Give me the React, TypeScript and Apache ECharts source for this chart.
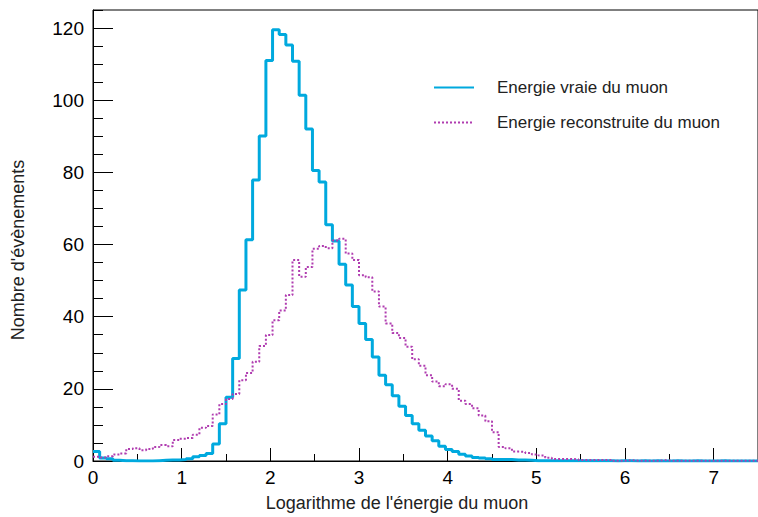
import React, { useEffect, useRef } from "react";
import * as echarts from "echarts";

const binWidth = 0.075;
const xMax = 7.5;

const trueEnergy = [
  2.6, 0.8, 0.6, 0.2, 0.1, 0.1, 0, 0, 0, 0.1,
  0.2, 0.3, 0.3, 0.4, 0.6, 1.2, 1.5, 2.1, 4.7, 10.3,
  17.7, 28.4, 47.4, 61.3, 77.9, 90.1, 111.0, 119.5, 118.2, 115.3,
  110.8, 101.4, 92.0, 80.5, 77.3, 65.5, 61.0, 54.5, 48.8, 42.8,
  38.1, 33.7, 28.8, 23.8, 21.1, 18.1, 15.2, 12.6, 10.3, 8.5,
  6.9, 5.6, 4.1, 3.2, 2.6, 1.9, 1.4, 1.0, 0.8, 0.6,
  0.4, 0.4, 0.4, 0.3, 0.3, 0.2, 0.1, 0.1, 0.1, 0.1,
  0.05, 0.1, 0.05, 0.05, 0.1, 0.05, 0.05, 0.05, 0, 0.05,
  0.05, 0, 0.05, 0, 0.05, 0, 0, 0.05, 0, 0,
  0.05, 0, 0, 0, 0.05, 0, 0, 0, 0, 0,
];

const recoEnergy = [
  1.2, 1.0, 1.3, 1.8, 2.1, 3.3, 3.5, 3.0, 3.3, 3.9,
  4.4, 4.1, 5.8, 6.2, 6.4, 7.3, 9.2, 9.7, 12.9, 15.8,
  17.2, 18.6, 22.4, 24.4, 27.5, 31.9, 34.9, 39.0, 41.7, 46.0,
  55.7, 51.1, 53.8, 58.8, 59.6, 59.0, 61.1, 61.6, 57.5, 55.7,
  51.5, 50.9, 47.0, 42.8, 38.1, 35.5, 34.1, 31.7, 28.2, 26.4,
  23.8, 22.0, 20.7, 21.3, 20.0, 16.7, 15.8, 14.6, 12.6, 11.0,
  8.0, 3.9, 3.5, 2.6, 2.5, 2.2, 1.8, 1.5, 0.9, 0.55,
  0.55, 0.55, 0.5, 0.3, 0.3, 0.3, 0.3, 0.3, 0.1, 0.1,
  0.2, 0.1, 0.1, 0.1, 0.1, 0.2, 0.1, 0.1, 0.1, 0.1,
  0.1, 0.1, 0.1, 0.1, 0.1, 0.1, 0.1, 0.1, 0.1, 0.1,
];

const seriesNames = ["Energie vraie du muon", "Energie reconstruite du muon"];
const xTitle = "Logarithme de l'énergie du muon";
const yTitle = "Nombre d'évènements";

const toSteps = (values: number[]) => {
  const pts = values.map((v, i) => [i * binWidth, v]);
  pts.push([xMax, values[values.length - 1]]);
  return pts;
};

const FONT = "'Liberation Sans', Arial, Helvetica, sans-serif";

export default function App() {
  const ref = useRef<HTMLDivElement>(null);
  useEffect(() => {
    if (!ref.current) return;
    const chart = echarts.init(ref.current, undefined, { renderer: "svg" });
    chart.setOption({
      animation: false,
      backgroundColor: "#ffffff",
      textStyle: { fontFamily: FONT },
      grid: {
        left: 93,
        top: 10,
        width: 667.5,
        height: 456,
        show: true,
        borderColor: "#000",
        borderWidth: 1,
        backgroundColor: "transparent",
      },
      legend: {
        orient: "vertical",
        left: 433,
        top: 79,
        padding: 0,
        itemWidth: 40,
        itemHeight: 14,
        itemGap: 18,
        data: seriesNames,
        itemStyle: { opacity: 0 },
        textStyle: { fontSize: 17, color: "#222", fontFamily: FONT, padding: [0, 0, 0, 18] },
      },
      xAxis: [
        {
          type: "value",
          min: 0,
          max: xMax,
          interval: 0.5,
          position: "bottom",
          axisLine: { show: true, lineStyle: { color: "#000", width: 1 } },
          axisTick: { show: true, inside: true, length: 7, lineStyle: { color: "#000" } },
          axisLabel: { show: false },
          splitLine: { show: false },
        },
        {
          type: "value",
          min: 0,
          max: xMax,
          interval: 1,
          position: "bottom",
          axisLine: { show: false },
          axisTick: { show: true, inside: true, length: 13, lineStyle: { color: "#000" } },
          axisLabel: { fontSize: 19, color: "#000", margin: 7, showMaxLabel: false, fontFamily: FONT },
          splitLine: { show: false },
          name: xTitle,
          nameLocation: "middle",
          nameGap: 33,
          nameTextStyle: { fontSize: 18, color: "#222", fontFamily: FONT, padding: [0, 57, 0, 0] },
        },
      ],
      yAxis: [
        {
          type: "value",
          min: 0,
          max: 125,
          interval: 5,
          position: "left",
          axisLine: { show: true, lineStyle: { color: "#000", width: 1 } },
          axisTick: { show: true, inside: true, length: 10, lineStyle: { color: "#000" } },
          axisLabel: { show: false },
          splitLine: { show: false },
        },
        {
          type: "value",
          min: 0,
          max: 125,
          interval: 20,
          position: "left",
          axisLine: { show: false },
          axisTick: { show: true, inside: true, length: 20, lineStyle: { color: "#000" } },
          axisLabel: { fontSize: 19, color: "#000", margin: 9, showMaxLabel: false, fontFamily: FONT },
          splitLine: { show: false },
          name: yTitle,
          nameLocation: "middle",
          nameGap: 66,
          nameTextStyle: { fontSize: 18, color: "#222", fontFamily: FONT, padding: [0, 29, 0, 0] },
        },
      ],
      series: [
        {
          name: seriesNames[0],
          type: "line",
          step: "end",
          xAxisIndex: 0,
          yAxisIndex: 0,
          data: toSteps(trueEnergy),
          symbol: "none",
          lineStyle: { color: "#00a9de", width: 3 },
          itemStyle: { color: "#00a9de" },
        },
        {
          name: seriesNames[1],
          type: "line",
          step: "end",
          xAxisIndex: 0,
          yAxisIndex: 0,
          data: toSteps(recoEnergy),
          symbol: "none",
          lineStyle: { color: "#b03cb0", width: 2, type: [2, 2] },
          itemStyle: { color: "#b03cb0" },
        },
      ],
    });
    return () => chart.dispose();
  }, []);
  return (
    <div
      ref={ref}
      style={{ position: "absolute", left: 0, top: 0, width: 758, height: 517 }}
    />
  );
}
